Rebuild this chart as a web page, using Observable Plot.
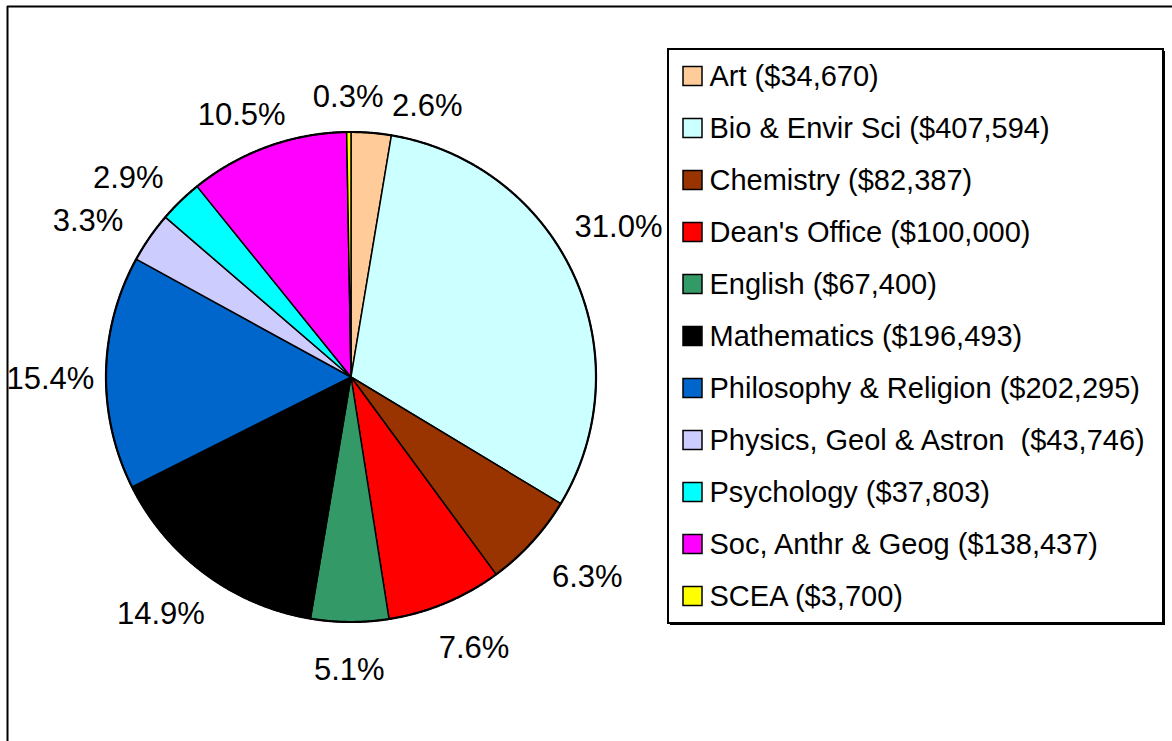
<!DOCTYPE html>
<html>
<head>
<meta charset="utf-8">
<script src="https://cdn.jsdelivr.net/npm/d3@7"></script>
<script src="https://cdn.jsdelivr.net/npm/@observablehq/plot@0.6"></script>
<style>
  html, body { margin: 0; padding: 0; background: #fff; }
  svg { display: block; }
</style>
</head>
<body>
<div id="chart"></div>
<script>
// ---- data ----
const departments = ["Art", "Bio & Envir Sci", "Chemistry", "Dean's Office", "English", "Mathematics",
  "Philosophy & Religion", "Physics, Geol & Astron ", "Psychology", "Soc, Anthr & Geog", "SCEA"];
const amounts = [34670, 407594, 82387, 100000, 67400, 196493, 202295, 43746, 37803, 138437, 3700];
const colors = ["#FFCC99", "#CCFFFF", "#993300", "#FF0000", "#339966", "#000000",
  "#0066CC", "#CCCCFF", "#00FFFF", "#FF00FF", "#FFFF00"];

// ---- layout ----
const W = 1172, H = 741;
const pieCx = 350.5, pieCy = 376.5, pieR = 245;
const font = "'Liberation Sans', Arial, Helvetica, sans-serif";
const labelSize = 31, legendSize = 29;

const total = d3.sum(amounts);
const pctFmt = d3.format(".1%");
const moneyFmt = d3.format(",");
const arcs = d3.pie().sort(null).value(d => d)(amounts);

const slices = arcs.map((a, i) => {
  const pts = [{x: pieCx, y: pieCy}];
  const n = Math.max(2, Math.ceil((a.endAngle - a.startAngle) / (Math.PI / 720)));
  for (let k = 0; k <= n; k++) {
    const t = a.startAngle + (a.endAngle - a.startAngle) * k / n;
    pts.push({x: pieCx + pieR * Math.sin(t), y: pieCy - pieR * Math.cos(t)});
  }
  return {pts, color: colors[i], mid: (a.startAngle + a.endAngle) / 2, pct: pctFmt(amounts[i] / total)};
});

// outer rim
const rim = d3.range(0, 1441).map(k => {
  const t = k / 1440 * 2 * Math.PI;
  return {x: pieCx + pieR * Math.sin(t), y: pieCy - pieR * Math.cos(t)};
});

// ---- percent label placement (outside end, Excel-like) ----
const ctx = document.createElement("canvas").getContext("2d");
ctx.font = `${labelSize}px ${font}`;
const labelA = 320, labelB = 286.5, labelShift = 7, gap = 8, labelH = 24;
const areaXmin = 6, areaXmax = 662;
const place = th => ({x: pieCx + labelA * Math.sin(th), y: pieCy + labelShift - labelB * Math.cos(th)});
const placed = [];
const overlapWith = (p, w) => placed.find(q =>
  Math.abs(p.x - q.x) < (w + q.w) / 2 + gap && Math.abs(p.y - q.y) < labelH + 4);
const norm = a => { while (a > Math.PI) a -= 2 * Math.PI; while (a <= -Math.PI) a += 2 * Math.PI; return a; };

for (let i = slices.length - 1; i >= 0; i--) {
  const text = slices[i].pct;
  const w = ctx.measureText(text).width;
  let th = slices[i].mid;
  let p = place(th);
  let fixedX = null;
  const clamp = (edgeX) => {
    let s = (edgeX - pieCx) / labelA;
    s = Math.max(-1, Math.min(1, s));
    let t2 = Math.asin(s);
    if (Math.cos(th) < 0) t2 = Math.PI - t2;
    if (Math.abs(norm(t2 - th)) < 12 * Math.PI / 180) { th = t2; p = place(th); }
    else { fixedX = edgeX; p.x = edgeX; }
  };
  if (p.x + w / 2 > areaXmax) clamp(areaXmax - w / 2);
  if (p.x - w / 2 < areaXmin) clamp(areaXmin + w / 2);
  let it = 0, q;
  while ((q = overlapWith(p, w)) && it < 600) {
    const dir = norm(th - q.th) >= 0 ? 1 : -1;
    th += dir * 0.002;
    p = place(th);
    if (fixedX !== null) p.x = fixedX;
    it++;
  }
  placed.push({x: p.x, y: p.y, w, th, text});
}

// ---- legend ----
const legendBox = {x1: 668, x2: 1163, y1: 49, y2: 623};
const legendRows = departments.map((d, i) => ({
  label: `${d} ($${moneyFmt(amounts[i])})`.replace(/  /g, " \u00A0"),
  color: colors[i],
  y: 76 + 52 * i
}));
const swX1 = 683, swX2 = 702, swHalf = 9.5, legendTextX = 709;

const marks = [
  // outer frame (left & top)
  Plot.ruleX([{x: 7}], {x: "x", y1: 6, y2: H, stroke: "black", strokeWidth: 2}),
  Plot.ruleY([{y: 6}], {y: "y", x1: 7, x2: W, stroke: "black", strokeWidth: 2}),
  // pie slices
  ...slices.map(s => Plot.line(s.pts, {x: "x", y: "y", fill: s.color, stroke: "black",
    strokeWidth: 1.5, curve: "linear-closed", strokeLinejoin: "round"})),
  Plot.line(rim, {x: "x", y: "y", stroke: "black", strokeWidth: 2.2, curve: "linear-closed"}),
  // percent labels
  Plot.text(placed, {x: "x", y: "y", text: "text", fontSize: labelSize, fontFamily: font,
    fill: "black", textAnchor: "middle", lineAnchor: "middle"}),
  // legend shadow + box
  Plot.rect([legendBox], {x1: d => d.x1 + 2, x2: d => d.x2 + 2, y1: d => d.y1 + 2, y2: d => d.y2 + 2, fill: "black"}),
  Plot.rect([legendBox], {x1: "x1", x2: "x2", y1: "y1", y2: "y2", fill: "white", stroke: "black", strokeWidth: 2}),
  Plot.rect(legendRows, {x1: swX1, x2: swX2, y1: d => d.y - swHalf, y2: d => d.y + swHalf,
    fill: "color", stroke: "black", strokeWidth: 1.5}),
  Plot.text(legendRows, {x: legendTextX, y: "y", text: "label", fontSize: legendSize, fontFamily: font,
    fill: "black", textAnchor: "start", lineAnchor: "middle"})
];

const chart = Plot.plot({
  width: W,
  height: H,
  margin: 0,
  style: {background: "white", overflow: "visible"},
  x: {domain: [0, W], range: [0, W], axis: null},
  y: {domain: [0, H], range: [0, H], axis: null},
  color: {type: "identity"},
  marks
});
document.getElementById("chart").appendChild(chart);
</script>
</body>
</html>
